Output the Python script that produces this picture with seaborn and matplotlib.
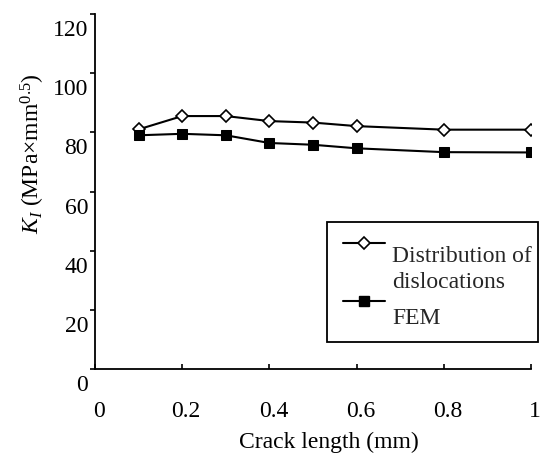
import matplotlib
matplotlib.use("Agg")
import matplotlib.pyplot as plt
import matplotlib.transforms as mtransforms
from matplotlib.lines import Line2D
from matplotlib.patches import Rectangle
import seaborn as sns
import pandas as pd

crack_length = [0.1, 0.2, 0.3, 0.4, 0.5, 0.6, 0.8, 1.0]
k_dislocations = [81.0, 85.5, 85.5, 83.8, 83.3, 82.1, 80.9, 80.9]
k_fem = [79.0, 79.5, 79.0, 76.4, 75.8, 74.6, 73.3, 73.2]
x_ticks = [0, 0.2, 0.4, 0.6, 0.8, 1.0]
x_ticklabels = ["0", "0.2", "0.4", "0.6", "0.8", "1"]
y_ticks = [0, 20, 40, 60, 80, 100, 120]
label_dis = "Distribution of\ndislocations"
label_fem = "FEM"

sns.set_theme(style="ticks")
plt.rcParams["font.family"] = ["Liberation Serif", "DejaVu Serif"]
plt.rcParams["mathtext.fontset"] = "custom"
plt.rcParams["mathtext.rm"] = "Liberation Serif"
plt.rcParams["mathtext.it"] = "Liberation Serif:italic"

FS = 17
W, H = 541, 455
fig = plt.figure(figsize=(W / 100, H / 100), dpi=100)
ax = fig.add_axes([95 / W, 1 - 369 / H, 436 / W, 355 / H])

df_d = pd.DataFrame({"x": crack_length, "y": k_dislocations})
df_f = pd.DataFrame({"x": crack_length, "y": k_fem})
sns.lineplot(data=df_d, x="x", y="y", ax=ax, color="black", lw=1.5,
             marker="D", markersize=6, markerfacecolor="white",
             markeredgecolor="black", markeredgewidth=1.2)
sns.lineplot(data=df_f, x="x", y="y", ax=ax, color="black", lw=1.5,
             marker="s", markersize=7, markerfacecolor="black",
             markeredgecolor="black")

ax.set_xlim(0, 1)
ax.set_ylim(0, 120)
ax.set_xticks(x_ticks)
ax.set_xticklabels(x_ticklabels)
ax.set_yticks(y_ticks)
sns.despine(ax=ax)
for s in ["left", "bottom"]:
    ax.spines[s].set_color("black")
    ax.spines[s].set_linewidth(1.3)
ax.tick_params(axis="x", direction="in", length=3.5, width=1.2, pad=23,
               labelsize=FS, colors="black")
ax.tick_params(axis="y", direction="out", length=3.5, width=1.2, pad=1.5,
               labelsize=FS, colors="black")

off = mtransforms.ScaledTranslation(0, -14 / 100, fig.dpi_scale_trans)
for lab in ax.get_yticklabels():
    lab.set_transform(lab.get_transform() + off)
offx = mtransforms.ScaledTranslation(4 / 100, 0, fig.dpi_scale_trans)
for lab in ax.get_xticklabels():
    lab.set_transform(lab.get_transform() + offx)

ax.set_xlabel("Crack length (mm)", fontsize=FS, color="black")
ax.set_ylabel(r"$K_I$ (MPa×mm$^{0.5}$)", fontsize=FS, color="black")
ax.xaxis.set_label_coords((329 - 95) / 436, (369 - 442) / 355)
ax.yaxis.set_label_coords((33 - 95) / 436, (369 - 154) / 355)
ax.xaxis.label.set_va("center")
ax.yaxis.label.set_va("center")


def fx(px):
    return px / W


def fy(py):
    return 1 - py / H


# legend box drawn in figure coordinates
fig.add_artist(Rectangle((fx(327), fy(342)), fx(538) - fx(327), fy(222) - fy(342),
                         transform=fig.transFigure, fill=False,
                         edgecolor="black", lw=1.3))
fig.add_artist(Line2D([fx(343), fx(385)], [fy(243), fy(243)], transform=fig.transFigure,
                      color="black", lw=1.5))
fig.add_artist(Line2D([fx(364)], [fy(243)], transform=fig.transFigure,
                      color="black", marker="D", markersize=6, markerfacecolor="white",
                      markeredgewidth=1.2, linestyle="none"))
fig.add_artist(Line2D([fx(343), fx(385)], [fy(301), fy(301)], transform=fig.transFigure,
                      color="black", lw=1.5))
fig.add_artist(Line2D([fx(364)], [fy(301)], transform=fig.transFigure,
                      color="black", marker="s", markersize=7, linestyle="none"))
lines = label_dis.split("\n")
fig.text(fx(392), fy(256), lines[0], fontsize=FS, va="center", ha="left")
fig.text(fx(392), fy(282), lines[1], fontsize=FS, va="center", ha="left")
fig.text(fx(392), fy(318), label_fem, fontsize=FS, va="center", ha="left")

fig.savefig("out.png", dpi=100, facecolor="white")
